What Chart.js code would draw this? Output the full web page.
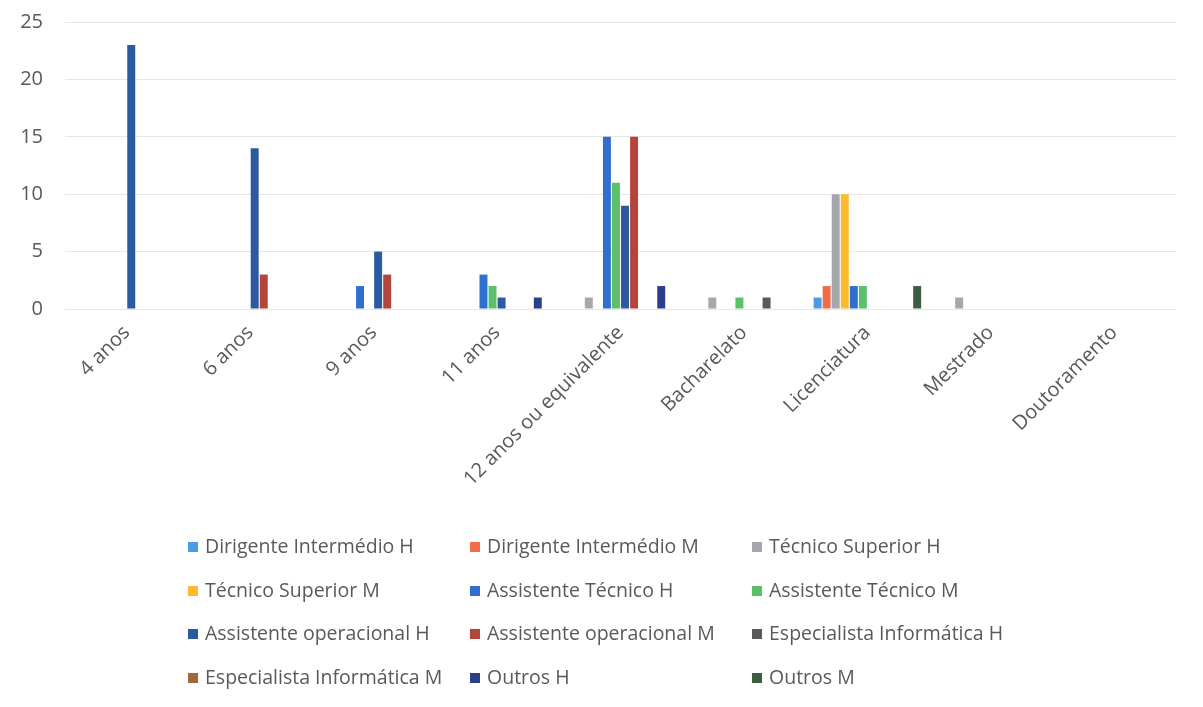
<!DOCTYPE html>
<html>
<head>
<meta charset="utf-8">
<script src="https://cdn.jsdelivr.net/npm/chart.js"></script>
<style>
body{margin:0;background:#fff;}
#wrap{position:relative;width:1203px;height:707px;}
#legend{position:absolute;left:188px;top:530px;display:grid;grid-template-columns:282px 282px 282px;font-family:"Open Sans",Lato,sans-serif;font-size:19.5px;color:#595959;}
#legend div{height:43.7px;line-height:32px;white-space:nowrap;}
#legend span{display:inline-block;width:10px;height:10px;margin-right:7px;vertical-align:1px;}
</style>
</head>
<body>
<div id="wrap">
<canvas id="mychart" width="1203" height="707"></canvas>
<div id="legend"></div>
</div>
<script>
var categories=["4 anos","6 anos","9 anos","11 anos","12 anos ou equivalente","Bacharelato","Licenciatura","Mestrado","Doutoramento"]
var seriesNames=["Dirigente Intermédio H","Dirigente Intermédio M","Técnico Superior H","Técnico Superior M","Assistente Técnico H","Assistente Técnico M","Assistente operacional H","Assistente operacional M","Especialista Informática H","Especialista Informática M","Outros H","Outros M"]
var colors=["#4d9be6","#f26b4a","#a6a6ae","#fdba2c","#2f6fd0","#5cc068","#2c5aa0","#b5443a","#5a5a5e","#a06a38","#2b3f8a","#3e5c40"]

var dirigenteH=[0,0,0,0,0,0,1,0,0]
var dirigenteM=[0,0,0,0,0,0,2,0,0]
var tecnicoSupH=[0,0,0,0,1,1,10,1,0]
var tecnicoSupM=[0,0,0,0,0,0,10,0,0]
var assistTecH=[0,0,2,3,15,0,2,0,0]
var assistTecM=[0,0,0,2,11,1,2,0,0]
var assistOpH=[23,14,5,1,9,0,0,0,0]
var assistOpM=[0,3,3,0,15,0,0,0,0]
var especInfH=[0,0,0,0,0,1,0,0,0]
var especInfM=[0,0,0,0,0,0,0,0,0]
var outrosH=[0,0,0,1,2,0,0,0,0]
var outrosM=[0,0,0,0,0,0,2,0,0]
var yTicks=[0,5,10,15,20,25]

var values=[dirigenteH,dirigenteM,tecnicoSupH,tecnicoSupM,assistTecH,assistTecM,assistOpH,assistOpM,especInfH,especInfM,outrosH,outrosM]
var datasets=[]
for(var i=0;i<seriesNames.length;i++){
  datasets.push({label:seriesNames[i],data:values[i],backgroundColor:colors[i],categoryPercentage:0.88,barPercentage:0.88})
}

var font={family:"'Open Sans', Lato, sans-serif",size:20}
var ctx=document.getElementById('mychart').getContext('2d')
var chart=new Chart(ctx,{
  type:"bar",
  data:{labels:categories,datasets:datasets},
  options:{
    responsive:false,
    animation:false,
    layout:{padding:{top:22,left:0,right:27,bottom:0}},
    plugins:{legend:{display:false},tooltip:{enabled:false}},
    scales:{
      x:{
        grid:{display:false},
        border:{display:false},
        ticks:{color:"#595959",font:font,minRotation:45,maxRotation:45,autoSkip:false,padding:4},
        afterFit:function(s){s.height=398}
      },
      y:{
        min:0,max:25,
        grid:{color:"#e6e6e6",drawTicks:true,tickLength:20,tickColor:"rgba(0,0,0,0)"},
        border:{display:false},
        afterBuildTicks:function(s){s.ticks=yTicks.map(function(v){return {value:v}})},
        ticks:{color:"#595959",font:font,padding:2},
        afterFit:function(s){s.width=65}
      }
    }
  }
})

var lg=document.getElementById('legend')
for(var j=0;j<seriesNames.length;j++){
  var d=document.createElement('div')
  d.innerHTML='<span style="background:'+colors[j]+'"></span>'+seriesNames[j]
  lg.appendChild(d)
}
</script>
</body>
</html>
